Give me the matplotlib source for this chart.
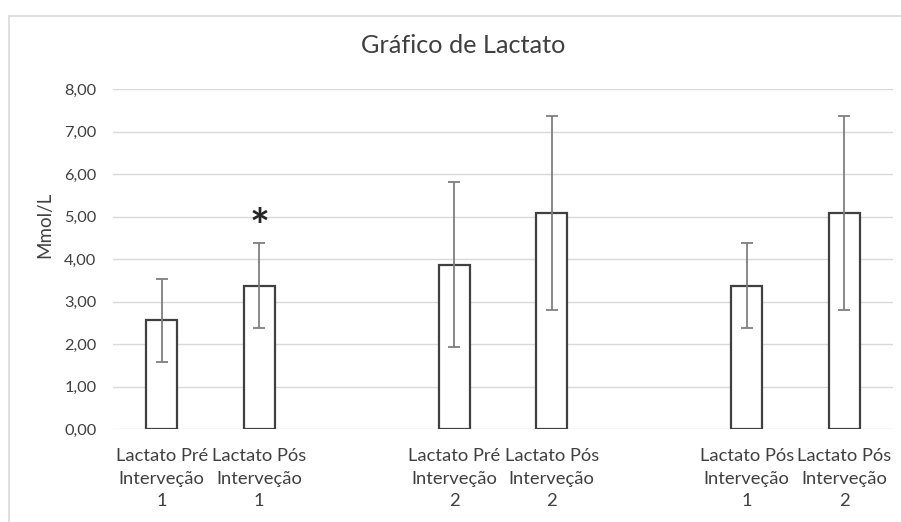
import matplotlib.pyplot as plt
import numpy as np
from matplotlib.patches import Rectangle

# Data (blank slots separate the three groups)
labels = [
    "Lactato Pré\nInterveção\n1",
    "Lactato Pós\nInterveção\n1",
    "",
    "Lactato Pré\nInterveção\n2",
    "Lactato Pós\nInterveção\n2",
    "",
    "Lactato Pós\nInterveção\n1",
    "Lactato Pós\nInterveção\n2",
]
means = [2.56, 3.37, np.nan, 3.87, 5.08, np.nan, 3.37, 5.08]
errors = [0.98, 1.00, np.nan, 1.95, 2.28, np.nan, 1.00, 2.28]
yticks = [0, 1, 2, 3, 4, 5, 6, 7, 8]
star_slot = 1
star_y = 4.7

plt.rcParams["font.family"] = ["Lato", "DejaVu Sans"]
txt = "#404040"

fig = plt.figure(figsize=(9.01, 5.22), dpi=100)
ax = fig.add_axes([113 / 901, 1 - 429 / 522, 780 / 901, 340 / 522])

x = np.arange(len(labels))
ax.bar(x, means, width=0.32, color="white", edgecolor="#404040", linewidth=1.6, zorder=3)
ax.errorbar(x, means, yerr=errors, fmt="none", ecolor="#7f7f7f", elinewidth=1.3,
            capsize=4, capthick=1.3, zorder=4)

# significance marker
ax.text(x[star_slot], star_y, "*", ha="center", va="center", fontsize=34,
        fontweight="bold", color="#262626", zorder=5)

ax.set_xlim(-0.5, len(labels) - 0.5)
ax.set_ylim(0, 8)
ax.set_yticks(yticks)
ax.set_yticklabels([f"{v:.2f}".replace(".", ",") for v in yticks], fontsize=11.8, color=txt)
ax.set_xticks(x)
ax.set_xticklabels(labels, fontsize=13.2, color=txt, linespacing=1.5)
ax.tick_params(length=0)
ax.tick_params(axis="x", pad=14)
ax.tick_params(axis="y", pad=12)
ax.grid(axis="y", color="#d9d9d9", linewidth=1, zorder=0)
for s in ax.spines.values():
    s.set_visible(False)

ax.set_ylabel("Mmol/L", fontsize=13.5, color=txt)
ax.yaxis.set_label_coords(-0.077, 0.6)

fig.text(463 / 901, 1 - 45 / 522, "Gráfico de Lactato", ha="center", va="center",
         fontsize=18.2, color=txt)

# chart frame (runs past the right and bottom edges, as in the crop)
fig.patches.append(Rectangle((8.5 / 901, -0.1), 1.2, 1.1 - 15.5 / 522, transform=fig.transFigure,
                             fill=False, edgecolor="#d9d9d9", linewidth=1.2))

fig.savefig("out.png", dpi=100)
